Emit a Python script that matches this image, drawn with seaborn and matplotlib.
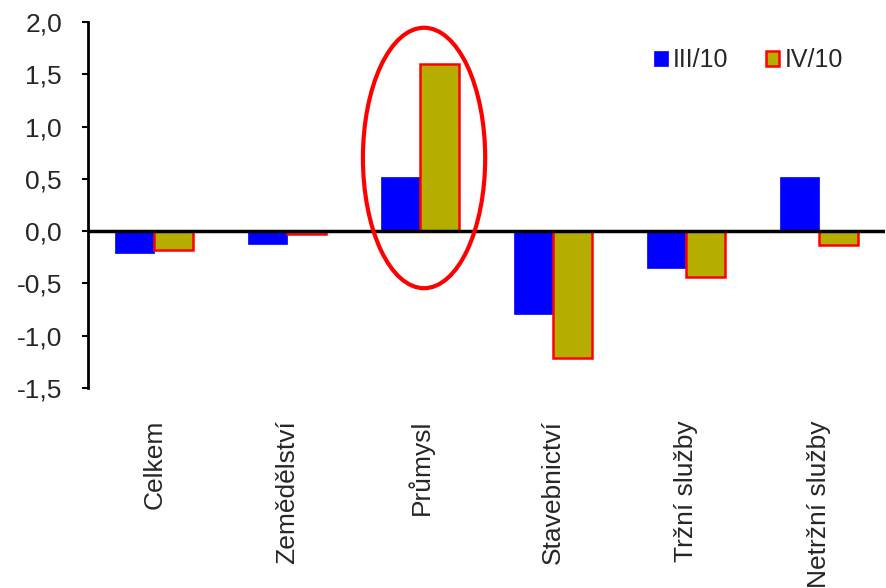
import matplotlib
matplotlib.use("Agg")
import matplotlib.pyplot as plt
from matplotlib.patches import Ellipse, Patch
import seaborn as sns
import pandas as pd

categories = ["Celkem", "Zemědělství", "Průmysl", "Stavebnictví", "Tržní služby", "Netržní služby"]
series_names = ["III/10", "IV/10"]
values_q3 = [-0.21, -0.12, 0.52, -0.79, -0.35, 0.52]
values_q4 = [-0.18, -0.03, 1.60, -1.21, -0.44, -0.13]
y_ticks = [-1.5, -1.0, -0.5, 0.0, 0.5, 1.0, 1.5, 2.0]

df = pd.DataFrame({
    "kategorie": categories * 2,
    "obdobi": [series_names[0]] * len(categories) + [series_names[1]] * len(categories),
    "hodnota": values_q3 + values_q4,
})

sns.set_theme(style="white")
plt.rcParams["font.family"] = ["Liberation Sans", "DejaVu Sans"]

blue = "#0000FF"
olive = "#B5AE00"

fig = plt.figure(figsize=(8.87, 5.88), dpi=100)
ax = fig.add_axes([0.099, 0.34, 0.899, 0.6226])

sns.barplot(data=df, x="kategorie", y="hodnota", hue="obdobi", order=categories,
            hue_order=series_names, palette=[blue, olive], width=0.59,
            saturation=1, legend=False, ax=ax)

n = len(categories)
for i, p in enumerate(ax.patches[:2 * n]):
    if i < n:
        p.set_edgecolor(blue)
        p.set_linewidth(0.5)
    else:
        p.set_edgecolor("#FF0000")
        p.set_linewidth(1.8)

ax.set_xlim(-0.5, n - 0.5)
ax.set_ylim(-1.5, 2.0)
ax.set_yticks(y_ticks)
ax.set_yticklabels([f"{v:.1f}".replace(".", ",") for v in y_ticks], fontsize=19)
ax.set_xlabel("")
ax.set_ylabel("")
ax.set_xticks(range(n))
ax.set_xticklabels(categories, rotation=90, fontsize=19, va="top", ha="center")
ax.tick_params(axis="x", length=0, pad=23)
ax.tick_params(axis="y", length=4.5, width=1.5, direction="out", left=True, pad=14, color="black")

for s in ["top", "right", "bottom"]:
    ax.spines[s].set_visible(False)
ax.spines["left"].set_color("black")
ax.spines["left"].set_linewidth(2)
ax.axhline(0, color="black", lw=2.5, zorder=5)

ax.add_patch(Ellipse((2.03, 0.70), width=0.92, height=2.49, fill=False,
                     edgecolor="#FF0000", lw=3, zorder=6, clip_on=False))

handles = [Patch(facecolor=blue, edgecolor=blue, lw=0.5),
           Patch(facecolor=olive, edgecolor="#FF0000", lw=1.8)]
ax.legend(handles, series_names, loc="upper right", bbox_to_anchor=(0.975, 0.99),
          ncol=2, frameon=False, fontsize=18, handlelength=0.55, handleheight=0.55,
          handletextpad=0.2, columnspacing=1.5)

fig.savefig("out.png", dpi=100)
